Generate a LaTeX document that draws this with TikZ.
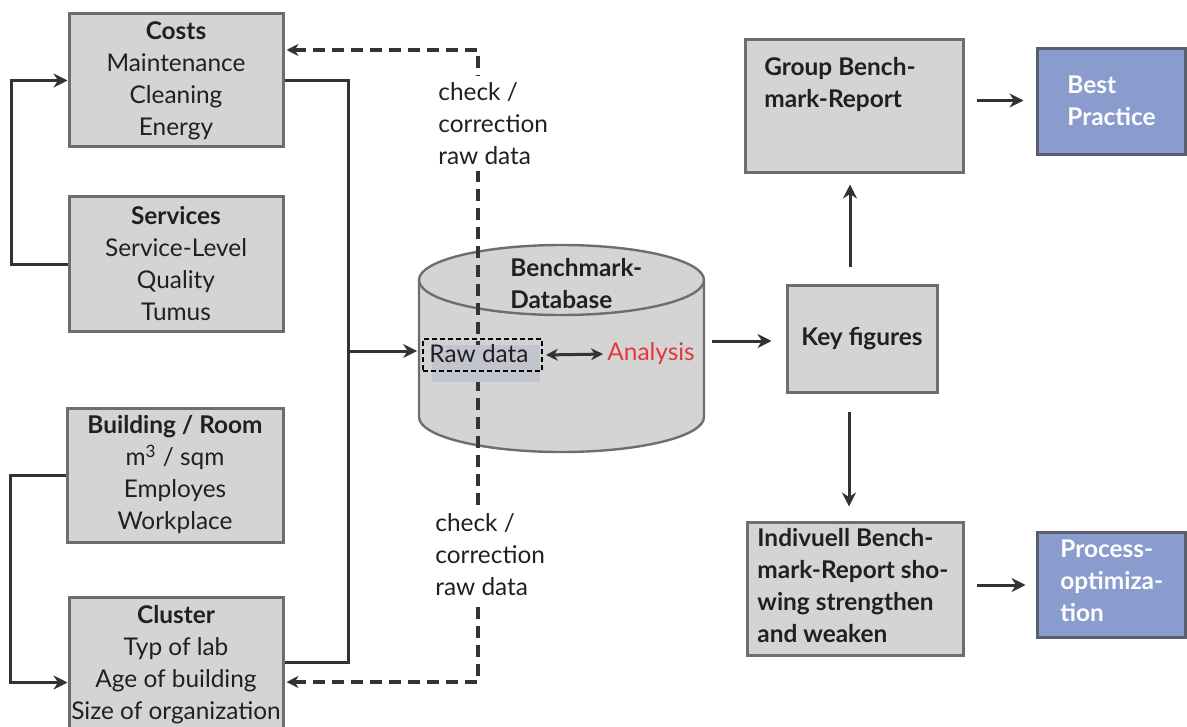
\documentclass[tikz,border=0pt]{standalone}
\usepackage{fontspec}
\setmainfont{Lato}
\usetikzlibrary{arrows.meta}
\definecolor{boxfill}{HTML}{D4D4D4}
\definecolor{boxdraw}{HTML}{6E6E6E}
\definecolor{linec}{HTML}{333333}
\definecolor{bluefill}{HTML}{8A9BCD}
\definecolor{bluedraw}{HTML}{5A5F6E}
\definecolor{redtxt}{HTML}{E8363E}
\definecolor{rawfill}{HTML}{C2C5CD}
\definecolor{txtc}{HTML}{231F20}
\begin{document}
\begin{tikzpicture}[x=0.5pt,y=-0.5pt,
  box/.style={draw=boxdraw,fill=boxfill,line width=1.5pt,inner sep=0pt,text=txtc,
    font=\fontsize{12.2}{16}\selectfont,align=center},
  bluebox/.style={draw=bluedraw,fill=bluefill,line width=1.5pt,inner sep=0pt},
  ltxt/.style={font=\fontsize{12.2}{16}\selectfont\bfseries,align=left,inner sep=0pt,anchor=north west,text=txtc},
  wtxt/.style={font=\fontsize{12.2}{16}\selectfont\bfseries,align=left,inner sep=0pt,anchor=north west,text=white},
  ntxt/.style={font=\fontsize{12.2}{16}\selectfont,align=left,inner sep=0pt,anchor=north west,text=txtc},
  conn/.style={draw=linec,line width=1.5pt,-{Stealth[length=7pt,width=7pt]}},
  plainline/.style={draw=linec,line width=1.5pt},
  dashconn/.style={draw=linec,line width=2.4pt,dash pattern=on 6pt off 3.5pt},
]
\useasboundingbox (0,0) rectangle (1187,727);

% left boxes
\node[box,minimum width=107pt,minimum height=66.5pt] (costs) at (176,80.5)
  {\textbf{Costs}\\Maintenance\\Cleaning\\Energy};
\node[box,minimum width=107pt,minimum height=67pt] (services) at (176,264)
  {\textbf{Services}\\Service-Level\\Quality\\Tumus};
\node[box,minimum width=108pt,minimum height=67pt] (building) at (175,475)
  {\textbf{Building / Room}\\m\textsuperscript{3} / sqm\\Employes\\Workplace};
\node[box,minimum width=107pt,minimum height=67.5pt] (cluster) at (176,664.5)
  {\textbf{Cluster}\\Typ of lab\\Age of building\\Size of organization};

% left loops
\draw[conn] (services.west) -- ++(-56,0) |- (costs.west);
\draw[conn] (building.west) -- ++(-55,0) |- ([yshift=-9pt]cluster.west);

% cylinder
\node[minimum width=142.5pt,minimum height=104pt,inner sep=0pt] (db) at (561.5,348.5) {};
\path[fill=boxfill,draw=boxdraw,line width=1.2pt]
  (419,280) -- (419,417) arc[start angle=180,end angle=360,x radius=71.25pt,y radius=17.5pt]
  -- (704,280);
\draw[fill=boxfill,draw=boxdraw,line width=1.2pt] (561.5,280) ellipse [x radius=71.25pt,y radius=17.5pt];

% dashed feedback line
\coordinate (dtop) at (478,50);
\coordinate (dbot) at (478,682);
\draw[dashconn,{Stealth[length=6pt,width=6pt]}-{Stealth[length=6pt,width=6pt]}]
  ([yshift=15.25pt,xshift=1pt]costs.east) -- (dtop) -- (dbot) -- ([yshift=-8.75pt,xshift=1pt]cluster.east);

% raw data
\fill[rawfill] (432,345) rectangle (540,382);
\node[draw=black,dash pattern=on 2.5pt off 1.5pt,line width=0.9pt,minimum width=59.5pt,minimum height=16pt,inner sep=0pt] (rawdata) at (482.5,355) {};
\node[font=\fontsize{12.2}{16}\selectfont,text=txtc,inner sep=0pt] (rawtxt) at (479,354) {Raw data};
\node[font=\fontsize{12.2}{16}\selectfont,text=redtxt,inner sep=0pt,anchor=west] (analysis) at (607,354) {Analysis};
\draw[linec,line width=1.5pt,{Stealth[length=6pt,width=6pt]}-{Stealth[length=6pt,width=6pt]},shorten <=1.5pt,shorten >=2pt] (rawdata.east) -- (analysis.west);
\node[ltxt] (dbtxt) at (510,258) {Benchmark-\\Database};

% bus
\coordinate (busJ) at (348,351);
\draw[plainline] (costs.east) -| (busJ) |- ([yshift=1.25pt]cluster.east);
\draw[conn,shorten >=2.5pt] (busJ) -- (busJ -| rawdata.west);

% check texts
\node[ntxt,fill=white,inner sep=3pt] (chk1) at (432,76) {check /\\correction\\raw data};
\node[ntxt,fill=white,inner sep=3pt] (chk2) at (429,507) {check /\\correction\\raw data};

% right side
\node[box,minimum width=75pt,minimum height=53.5pt,font=\fontsize{12.2}{16}\selectfont\bfseries] (key) at (862,338.5) {Key figures};
\node[box,minimum width=109pt,minimum height=66.5pt] (group) at (854,106.5) {};
\node[ltxt] (grouptxt) at (764,57) {Group Bench-\\mark-Report};
\node[bluebox,minimum width=74pt,minimum height=53pt] (best) at (1111,102) {};
\node[wtxt] (besttxt) at (1067,75) {Best\\Practice};
\node[box,minimum width=108pt,minimum height=66.5pt] (indiv) at (855,588.5) {};
\node[ltxt] (indivtxt) at (757,528) {Indivuell Bench-\\mark-Report sho-\\wing strengthen\\and weaken};
\node[bluebox,minimum width=74pt,minimum height=52.5pt] (proc) at (1111,584.5) {};
\node[wtxt] (proctxt) at (1060,539) {Process-\\optimiza-\\tion};

\draw[conn,shorten <=4pt,shorten >=7pt] ([yshift=3.75pt]db.east) -- ([yshift=3.75pt]db.east -| key.west);
\draw[conn,shorten <=6pt,shorten >=6pt] ([yshift=3pt]group.east) -- ([yshift=3pt]group.east -| best.west);
\draw[conn,shorten <=8.5pt,shorten >=5pt] ([xshift=-6pt]key.north) -- ([xshift=-6pt]key.north |- group.south);
\draw[conn,shorten <=9pt,shorten >=7pt] ([xshift=-6.5pt]key.south) -- ([xshift=-6.5pt]key.south |- indiv.north);
\draw[conn,shorten <=6pt,shorten >=5pt] ([yshift=1.75pt]indiv.east) -- ([yshift=1.75pt]indiv.east -| proc.west);
\end{tikzpicture}
\end{document}
